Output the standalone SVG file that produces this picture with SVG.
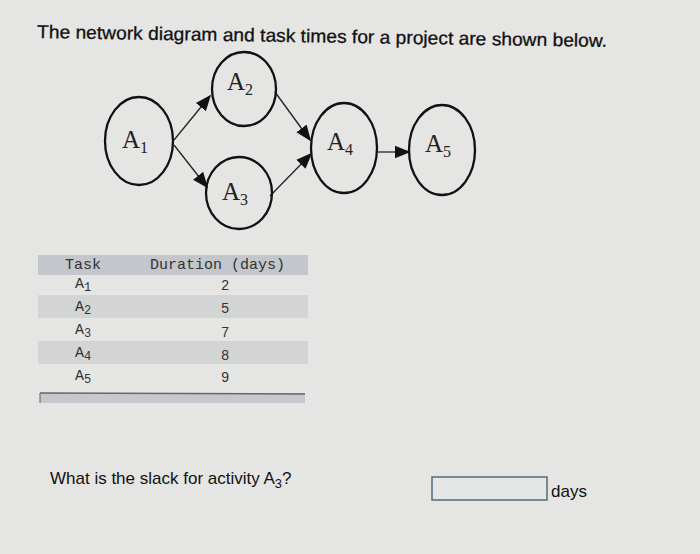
<svg xmlns="http://www.w3.org/2000/svg" width="700" height="554" viewBox="0 0 700 554">
<defs>
<marker id="big" viewBox="0 0 10 10" refX="9" refY="5" markerWidth="16" markerHeight="16" markerUnits="userSpaceOnUse" orient="auto">
<path d="M0,1 L10,5 L0,9 Z" fill="#111"/>
</marker>
<style>
.node{fill:none;stroke:#111;stroke-width:2.3}
.lbl{font-family:"Liberation Serif",serif;font-size:25px;fill:#222}
.sub{font-size:16px}
.mono{font-family:"Liberation Mono",monospace;font-size:15px;fill:#333}
.num{font-family:"Liberation Sans",sans-serif;font-size:14px;fill:#333;text-anchor:end}
.sans{font-family:"Liberation Sans",Arial,sans-serif;fill:#111}
</style>
</defs>
<rect width="700" height="554" fill="#e5e5e3"/>
<text class="sans" x="37" y="38" font-size="18.5" stroke="#111" stroke-width="0.3" textLength="570" lengthAdjust="spacingAndGlyphs" transform="rotate(0.9 37 38)">The network diagram and task times for a project are shown below.</text>

<g id="connectors" stroke="#222" stroke-width="1.3" fill="none">
<path d="M174,140 L210,96" marker-end="url(#big)"/>
<path d="M174,145 L207,187" marker-end="url(#big)"/>
<path d="M275,92 L310,140" marker-end="url(#big)"/>
<path d="M270,196 L311,154" marker-end="url(#big)"/>
<path d="M378,152 L409,152" marker-end="url(#big)"/>
</g>

<g id="A1"><ellipse class="node" cx="139" cy="141" rx="34" ry="44"/><text class="lbl" x="122" y="148">A<tspan class="sub" dy="5">1</tspan></text></g>
<g id="A2"><ellipse class="node" cx="244" cy="89" rx="32" ry="37"/><text class="lbl" x="227" y="90">A<tspan class="sub" dy="5">2</tspan></text></g>
<g id="A3"><ellipse class="node" cx="239" cy="193" rx="33" ry="36"/><text class="lbl" x="222" y="200">A<tspan class="sub" dy="5">3</tspan></text></g>
<g id="A4"><ellipse class="node" cx="344" cy="148" rx="33" ry="45"/><text class="lbl" x="327" y="150">A<tspan class="sub" dy="5">4</tspan></text></g>
<g id="A5"><ellipse class="node" cx="442" cy="150" rx="33" ry="45"/><text class="lbl" x="425" y="152">A<tspan class="sub" dy="5">5</tspan></text></g>

<g id="table">
<rect x="38" y="255" width="270" height="20" fill="#c3c6ca"/>
<rect x="38" y="295" width="270" height="23" fill="#d3d4d4"/>
<rect x="38" y="341" width="270" height="23" fill="#d3d4d4"/>
<text class="mono" x="65" y="269">Task</text>
<text class="mono" x="150" y="269">Duration (days)</text>
<text class="mono" x="75" y="288">A<tspan font-size="12" dy="3">1</tspan></text>
<text class="mono" x="75" y="311">A<tspan font-size="12" dy="3">2</tspan></text>
<text class="mono" x="75" y="334">A<tspan font-size="12" dy="3">3</tspan></text>
<text class="mono" x="75" y="357">A<tspan font-size="12" dy="3">4</tspan></text>
<text class="mono" x="75" y="380">A<tspan font-size="12" dy="3">5</tspan></text>
<text class="num" x="229" y="290">2</text>
<text class="num" x="229" y="313">5</text>
<text class="num" x="229" y="337">7</text>
<text class="num" x="229" y="360">8</text>
<text class="num" x="229" y="382">9</text>
<rect x="40" y="393" width="265" height="10" fill="#c6c9cc"/>
<line x1="40" y1="393" x2="305" y2="394" stroke="#666" stroke-width="1.5"/>
<line x1="40" y1="393" x2="40" y2="403" stroke="#666" stroke-width="1"/>
</g>

<text class="sans" x="50" y="484" font-size="17">What is the slack for activity A<tspan font-size="13" dy="4">3</tspan><tspan dy="-4">?</tspan></text>
<rect x="432" y="477" width="115" height="23" fill="#e3e6e4" stroke="#4f6f78" stroke-width="1.5"/>
<text class="sans" x="551" y="497" font-size="17">days</text>
</svg>
